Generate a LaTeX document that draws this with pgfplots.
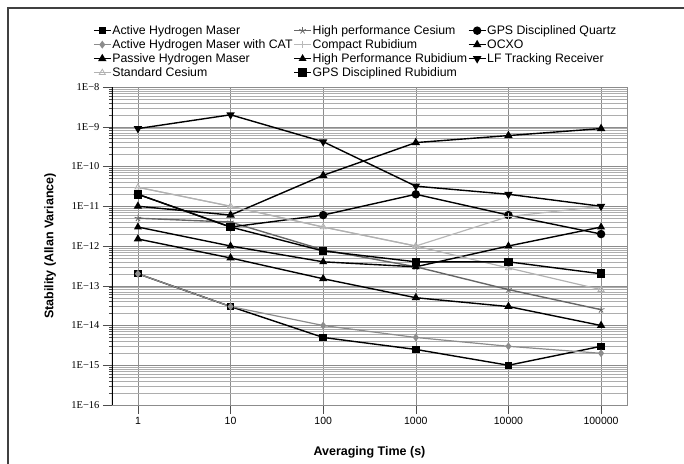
\documentclass[border=0pt]{standalone}
\usepackage{pgfplots}
\pgfplotsset{compat=1.18}
\usepackage{fontspec}
\setmainfont{Liberation Sans}
\newfontfamily\tnr{Liberation Serif}

\begin{document}
\begin{tikzpicture}
\useasboundingbox (-112pt,-58pt) rectangle (572pt,405pt);
% outer frame (bottom runs off the page)
\draw[line width=1.6pt, black!75] (-104pt,-80pt) -- (-104pt,397pt) -- (600pt,397pt);
\begin{axis}[
    width=515pt, height=318pt, scale only axis,
    xmin=-0.28, xmax=5.28,
    ymode=log, ymin=1e-16, ymax=1e-8,
    xtick={0,...,5},
    xticklabels={1,10,100,1000,10000,100000},
    ytick={1e-16,1e-15,1e-14,1e-13,1e-12,1e-11,1e-10,1e-9,1e-8},
    yticklabels={1E−16,1E−15,1E−14,1E−13,1E−12,1E−11,1E−10,1E−9,1E−8},
    xtick pos=bottom, ytick pos=left,
    tick align=outside,
    major tick length=9pt, minor tick length=3pt,
    tick style={black!70, line width=0.5pt},
    xmajorgrids=true, ymajorgrids=true, yminorgrids=true,
    major grid style={black!45, line width=0.5pt},
    minor grid style={black!32, line width=0.45pt},
    axis line style={black!45},
    xticklabel style={font=\fontsize{10.5}{12}\selectfont},
    yticklabel style={font=\tnr\fontsize{10.5}{12}\selectfont},
    xlabel={Averaging Time (s)},
    ylabel={Stability (Allan Variance)},
    xlabel style={font=\fontsize{12.5}{14}\selectfont\bfseries, at={(axis description cs:0.5,-0.148)}, anchor=center},
    ylabel style={font=\fontsize{12.5}{14}\selectfont\bfseries, at={(axis description cs:-0.12,0.5)}, anchor=center},
    legend columns=3,
    legend cell align=left,
    legend style={at={(axis description cs:-0.043,1.203)}, anchor=north west,
        draw=none, fill=none, font=\fontsize{12.3}{13}\selectfont,
        row sep=2pt, nodes={inner sep=0.8pt}},
    every axis plot/.append style={line width=1.4pt},
]

% row 1 of legend
\addplot[black, mark=square*, mark size=3pt] coordinates {
(0,2e-13) (1,3e-14) (2,5e-15) (3,2.5e-15) (4,1e-15) (5,3e-15)
};
\addlegendentry{Active Hydrogen Maser}

\addplot[black!60, mark=star, mark size=3.5pt, mark options={line width=0.8pt}] coordinates {
(0,5e-12) (1,4e-12) (2,8e-13) (3,3e-13) (4,8e-14) (5,2.5e-14)
};
\addlegendentry{High performance Cesium}

\addplot[black, mark=*, mark size=3.5pt] coordinates {
(0,2e-11) (1,3e-12) (2,6e-12) (3,2e-11) (4,6e-12) (5,2e-12)
};
\addlegendentry{GPS Disciplined Quartz}

% row 2
\addplot[black!45, line width=1.2pt, mark=diamond*, mark size=3pt] coordinates {
(0,2e-13) (1,3e-14) (2,1e-14) (3,5e-15) (4,3e-15) (5,2e-15)
};
\addlegendentry{Active Hydrogen Maser with CAT}

\addplot[black!28, line width=1.2pt, mark=+, mark size=3.5pt, mark options={line width=0.8pt}] coordinates {
(0,3e-11) (1,1e-11) (2,3e-12) (3,1e-12) (4,5.5e-12) (5,1e-11)
};
\addlegendentry{Compact Rubidium}

\addplot[black, mark=triangle*, mark size=3.5pt] coordinates {
(0,1e-11) (1,6e-12) (2,6e-11) (3,4e-10) (4,6e-10) (5,9e-10)
};
\addlegendentry{OCXO}

% row 3
\addplot[black, mark=triangle*, mark size=3.5pt] coordinates {
(0,1.5e-12) (1,5e-13) (2,1.5e-13) (3,5e-14) (4,3e-14) (5,1e-14)
};
\addlegendentry{Passive Hydrogen Maser}

\addplot[black, mark=triangle*, mark size=3.2pt] coordinates {
(0,3e-12) (1,1e-12) (2,4e-13) (3,3e-13) (4,1e-12) (5,3e-12)
};
\addlegendentry{High Performance Rubidium}

\addplot[black, mark=triangle*, mark size=3.5pt, mark options={rotate=180}] coordinates {
(0,9e-10) (1,2e-9) (2,4.2e-10) (3,3.2e-11) (4,2e-11) (5,1e-11)
};
\addlegendentry{LF Tracking Receiver}

% row 4
\addplot[black!30, line width=1.2pt, mark=triangle, mark size=3.5pt, mark options={line width=0.8pt}] coordinates {
(0,3e-11) (1,1e-11) (2,3e-12) (3,1e-12) (4,2.8e-13) (5,8e-14)
};
\addlegendentry{Standard Cesium}

\addplot[black, mark=square*, mark size=3.6pt] coordinates {
(0,2e-11) (1,3e-12) (2,7.5e-13) (3,4e-13) (4,4e-13) (5,2e-13)
};
\addlegendentry{GPS Disciplined Rubidium}

% heavy left axis line
\draw[black, line width=1.3pt] (rel axis cs:0,0) -- (rel axis cs:0,1);
\end{axis}
\end{tikzpicture}
\end{document}
